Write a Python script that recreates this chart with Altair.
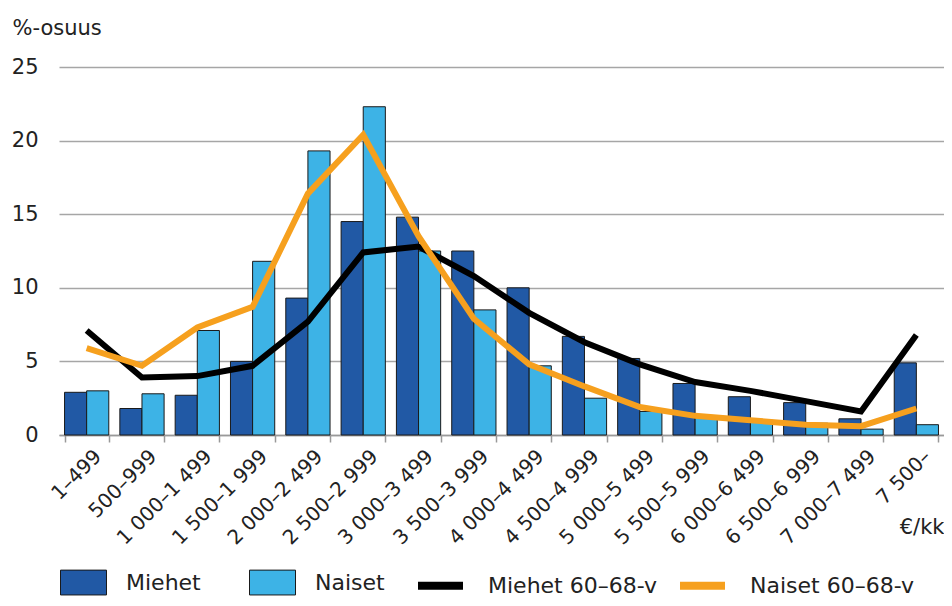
import altair as alt
import pandas as pd

categories = ["1–499", "500–999", "1 000–1 499", "1 500–1 999", "2 000–2 499",
              "2 500–2 999", "3 000–3 499", "3 500–3 999", "4 000–4 499",
              "4 500–4 999", "5 000–5 499", "5 500–5 999", "6 000–6 499",
              "6 500–6 999", "7 000–7 499", "7 500–"]
miehet = [2.9, 1.8, 2.7, 5.0, 9.3, 14.5, 14.8, 12.5, 10.0, 6.7, 5.2, 3.5, 2.6, 2.2, 1.1, 4.9]
naiset = [3.0, 2.8, 7.1, 11.8, 19.3, 22.3, 12.5, 8.5, 4.7, 2.5, 1.6, 1.2, 1.0, 0.8, 0.4, 0.7]
miehet_6068 = [7.1, 3.9, 4.0, 4.7, 7.7, 12.4, 12.8, 10.8, 8.3, 6.3, 4.8, 3.6, 3.0, 2.3, 1.6, 6.8]
naiset_6068 = [5.9, 4.7, 7.3, 8.7, 16.4, 20.4, 13.5, 7.9, 4.8, 3.3, 1.9, 1.3, 1.0, 0.7, 0.6, 1.8]

bar_series = ["Miehet", "Naiset"]
line_series = ["Miehet 60–68-v", "Naiset 60–68-v"]

bars = pd.DataFrame(
    [{"cat": c, "series": bar_series[0], "value": v} for c, v in zip(categories, miehet)]
    + [{"cat": c, "series": bar_series[1], "value": v} for c, v in zip(categories, naiset)]
)
lines = pd.DataFrame(
    [{"cat": c, "series": line_series[0], "value": v} for c, v in zip(categories, miehet_6068)]
    + [{"cat": c, "series": line_series[1], "value": v} for c, v in zip(categories, naiset_6068)]
)

FONT = "DejaVu Sans"
W, H = 885, 368
RECT = "M-1,-0.54L1,-0.54L1,0.54L-1,0.54Z"

x = alt.X(
    "cat:N", sort=categories,
    scale=alt.Scale(paddingInner=0.2, paddingOuter=0.1),
    axis=alt.Axis(
        title="€/kk", labelAngle=-45, labelFontSize=20, labelColor="#222",
        labelPadding=4, labelOffset=4, tickBand="extent", tickSize=7, tickColor="#999",
        domainColor="#999", domainWidth=1.5, tickWidth=1.5,
        titleX=W, titleY=92, titleAlign="right", titleBaseline="middle",
        titleFontSize=21, titleFontWeight="normal", titleColor="#222",
        grid=False,
    ),
)

y_axis = alt.Axis(
    title="%-osuus", values=[0, 2.5, 5, 7.5, 10, 12.5, 15, 17.5, 20, 22.5, 25],
    labelExpr="datum.value % 5 == 0 ? datum.label : ''",
    labelFontSize=21, labelColor="#222", labelPadding=21,
    ticks=False, domain=False, gridColor="#a6a6a6", gridWidth=1.5,
    titleAngle=0, titleX=-47, titleY=-39, titleAlign="left",
    titleBaseline="middle", titleFontSize=21, titleFontWeight="normal",
    titleColor="#222",
)

bar_layer = alt.Chart(bars).mark_bar(stroke="#1a1a1a", strokeWidth=1).encode(
    x=x,
    xOffset=alt.XOffset("series:N", sort=bar_series),
    y=alt.Y("value:Q", scale=alt.Scale(domain=[0, 25], nice=False), axis=y_axis),
    fill=alt.Fill(
        "series:N",
        scale=alt.Scale(domain=bar_series, range=["#2159a5", "#3db3e6"]),
        legend=alt.Legend(
            title=None, orient="none", legendX=1, legendY=492, direction="horizontal",
            symbolType=RECT, symbolSize=2116, symbolStrokeColor="#1a1a1a",
            symbolStrokeWidth=1, labelFontSize=22, labelColor="#222",
            labelOffset=19, columnPadding=46, symbolOpacity=1, labelLimit=300,
        ),
    ),
)

line_layer = alt.Chart(lines).mark_line(strokeWidth=6).encode(
    x=alt.X("cat:N", sort=categories),
    y=alt.Y("value:Q"),
    stroke=alt.Stroke(
        "series:N",
        scale=alt.Scale(domain=line_series, range=["#000000", "#f6a01e"]),
        legend=alt.Legend(
            title=None, orient="none", legendX=355, legendY=492, direction="horizontal",
            symbolType="stroke", symbolSize=2025, symbolStrokeWidth=8,
            labelFontSize=22, labelColor="#222", labelOffset=21, columnPadding=6,
            labelLimit=300,
        ),
    ),
)

chart = alt.layer(bar_layer, line_layer).resolve_scale(
    fill="independent", stroke="independent"
).properties(
    width=W, height=H,
    autosize=alt.AutoSizeParams(type="none"),
    padding={"left": 51, "top": 59, "right": 0, "bottom": 163},
).configure(font=FONT).configure_view(stroke=None)

chart.save("out.html", embed_options={"renderer": "svg", "actions": False})
